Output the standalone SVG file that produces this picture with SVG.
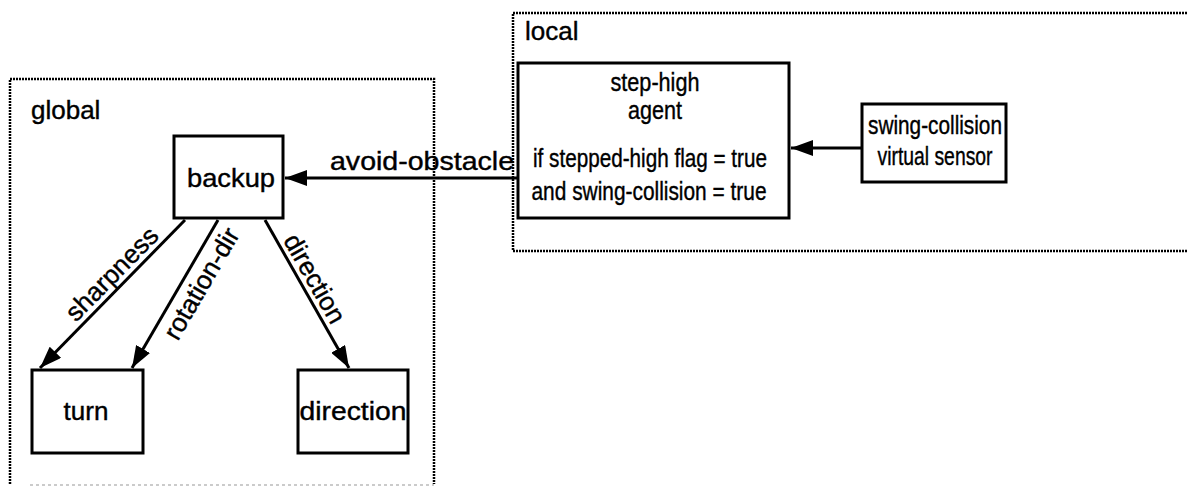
<svg xmlns="http://www.w3.org/2000/svg" width="1187" height="489" viewBox="0 0 1187 489">
<style>
text{font-family:"Liberation Sans",Arial,sans-serif;font-size:26px;fill:#000;stroke:#000;stroke-width:0.4}
.box{fill:#fff;stroke:#000;stroke-width:3}
.grp{fill:none;stroke:#000;stroke-width:2.5;stroke-dasharray:2 1}
.edge{stroke:#000;stroke-width:3;fill:none}
.c{text-anchor:middle}
</style>
<defs>
<marker id="ah" viewBox="0 0 22 16" refX="22" refY="8" markerWidth="22" markerHeight="16" markerUnits="userSpaceOnUse" orient="auto">
<path d="M0,0 L22,8 L0,16 z" fill="#000"/>
</marker>
</defs>
<g id="global">
<path class="grp" d="M10,484 V79 H434 V484"/>
<path d="M30,485 H434" stroke="#bbb" stroke-width="1.5" stroke-dasharray="3 3"/>
<text x="31" y="119">global</text>
</g>
<g id="local">
<path class="grp" d="M1190,13 H513 V251 H1190"/>
<text x="525" y="40">local</text>
</g>
<g id="backup">
<rect class="box" x="174" y="136" width="109" height="82"/>
<text class="c" x="231" y="187" textLength="88" lengthAdjust="spacingAndGlyphs">backup</text>
</g>
<g id="turn">
<rect class="box" x="32" y="370" width="111" height="83"/>
<text class="c" x="86" y="420">turn</text>
</g>
<g id="direction">
<rect class="box" x="298" y="370" width="110" height="83"/>
<text class="c" x="353" y="420" textLength="107" lengthAdjust="spacingAndGlyphs">direction</text>
</g>
<g id="step-high">
<rect class="box" x="518" y="63" width="271" height="155"/>
<text class="c" x="655" y="91" textLength="89" lengthAdjust="spacingAndGlyphs">step-high</text>
<text class="c" x="655" y="119" textLength="54" lengthAdjust="spacingAndGlyphs">agent</text>
<text class="c" x="650" y="167" textLength="234" lengthAdjust="spacingAndGlyphs">if stepped-high flag = true</text>
<text class="c" x="649" y="200" textLength="235" lengthAdjust="spacingAndGlyphs">and swing-collision = true</text>
</g>
<g id="swing-collision">
<rect class="box" x="862" y="104" width="144" height="78"/>
<text class="c" x="935" y="134" textLength="134" lengthAdjust="spacingAndGlyphs">swing-collision</text>
<text class="c" x="935" y="165" textLength="115" lengthAdjust="spacingAndGlyphs">virtual sensor</text>
</g>
<g id="connectors">
<line class="edge" x1="862" y1="148" x2="791" y2="148" marker-end="url(#ah)"/>
<line class="edge" x1="518" y1="178" x2="285" y2="178" marker-end="url(#ah)"/>
<text x="330" y="170" textLength="184" lengthAdjust="spacingAndGlyphs">avoid-obstacle</text>
<line class="edge" x1="185" y1="220" x2="40" y2="368" marker-end="url(#ah)"/>
<text class="c" transform="translate(118,280) rotate(-45.4)">sharpness</text>
<line class="edge" x1="218" y1="220" x2="132" y2="368" marker-end="url(#ah)"/>
<text class="c" transform="translate(209,288) rotate(-59.8)">rotation-dir</text>
<line class="edge" x1="265" y1="220" x2="349" y2="368" marker-end="url(#ah)"/>
<text class="c" transform="translate(307,283) rotate(60.4)">direction</text>
</g>
</svg>
